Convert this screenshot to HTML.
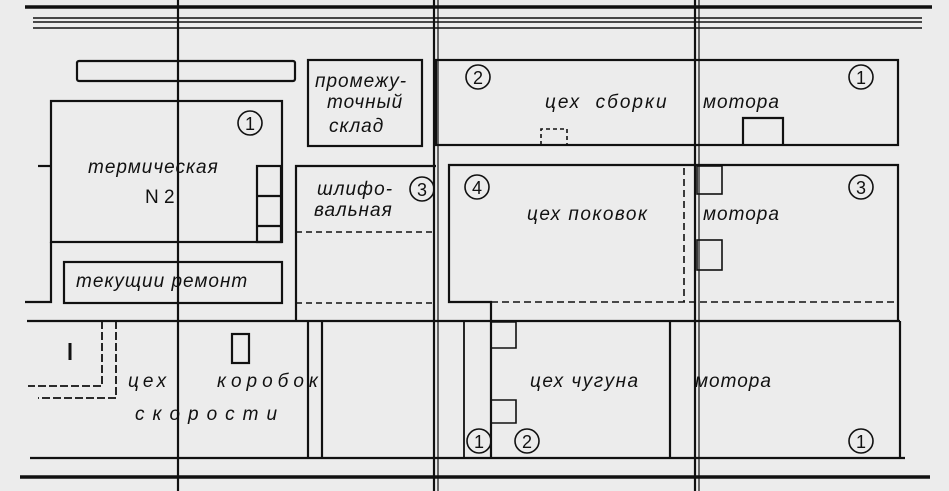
<!DOCTYPE html>
<html><head><meta charset="utf-8"><style>
html,body{margin:0;padding:0;background:#ececec;}
svg{display:block}
text{font-family:"Liberation Sans",sans-serif;font-style:italic;font-size:19px;fill:#111;}
.c{font-style:normal;font-size:18px;text-anchor:middle;}
</style></head><body>
<svg width="949" height="491" viewBox="0 0 949 491" xmlns="http://www.w3.org/2000/svg">
<rect width="949" height="491" fill="#ececec"/>
<g stroke="#111" fill="none" stroke-width="2.2">
<line x1="25" y1="7" x2="932" y2="7" stroke-width="3.5"/>
<line x1="33" y1="18" x2="922" y2="18" stroke-width="1.5"/>
<line x1="33" y1="22" x2="922" y2="22" stroke-width="1.5"/>
<line x1="33" y1="28" x2="922" y2="28" stroke-width="1.5"/>
<line x1="30" y1="458" x2="905" y2="458"/>
<line x1="20" y1="477" x2="930" y2="477" stroke-width="3.5"/>
<line x1="178" y1="0" x2="178" y2="491"/>
<line x1="434" y1="0" x2="434" y2="491"/>
<line x1="438" y1="0" x2="438" y2="491" stroke-width="1.2"/>
<line x1="695" y1="0" x2="695" y2="491"/>
<line x1="699" y1="0" x2="699" y2="491" stroke-width="1.2"/>
<rect x="77" y="61" width="218" height="20" rx="2"/>
<rect x="308" y="60" width="114" height="86"/>
<rect x="51" y="101" width="231" height="141"/>
<rect x="257" y="166" width="24" height="76"/>
<line x1="257" y1="196" x2="281" y2="196"/>
<line x1="257" y1="226" x2="281" y2="226"/>
<polyline points="51,242 51,302 25,302"/>
<line x1="38" y1="166" x2="51" y2="166"/>
<rect x="64" y="262" width="218" height="41"/>
<polyline points="296,321 296,166 436,166"/>
<line x1="296" y1="232" x2="436" y2="232" stroke-dasharray="6,4" stroke-width="1.6"/>
<line x1="296" y1="303" x2="436" y2="303" stroke-dasharray="6,4" stroke-width="1.6"/>
<line x1="27" y1="321" x2="900" y2="321"/>
<line x1="308" y1="321" x2="308" y2="458"/>
<line x1="322" y1="321" x2="322" y2="458"/>
<polyline points="102,321 102,386 28,386" stroke-dasharray="8,3" stroke-width="1.8"/>
<polyline points="116,321 116,398 38,398" stroke-dasharray="8,3" stroke-width="1.8"/>
<line x1="70" y1="343" x2="70" y2="360" stroke-width="3"/>
<rect x="232" y="334" width="17" height="29"/>
<rect x="436" y="60" width="462" height="85"/>
<polyline points="541,145 541,129 567,129 567,145" stroke-dasharray="4,3" stroke-width="1.6"/>
<polyline points="743,145 743,118 783,118 783,145"/>
<polyline points="491,458 491,302 449,302 449,165 898,165 898,321"/>
<line x1="491" y1="302" x2="898" y2="302" stroke-dasharray="7,4" stroke-width="1.6"/>
<line x1="684" y1="168" x2="684" y2="302" stroke-dasharray="7,4" stroke-width="1.6"/>
<rect x="697" y="166" width="25" height="28" stroke-width="1.6"/>
<rect x="697" y="240" width="25" height="30" stroke-width="1.6"/>
<line x1="464" y1="321" x2="464" y2="458" stroke-width="1.8"/>
<line x1="670" y1="321" x2="670" y2="458"/>
<line x1="900" y1="321" x2="900" y2="458"/>
<polyline points="491,322 516,322 516,348 491,348" stroke-width="1.6"/>
<polyline points="491,400 516,400 516,423 491,423" stroke-width="1.6"/>
<g stroke-width="1.6">
<circle cx="250" cy="123" r="12"/>
<circle cx="422" cy="189" r="12"/>
<circle cx="478" cy="77" r="12"/>
<circle cx="861" cy="77" r="12"/>
<circle cx="477" cy="187" r="12"/>
<circle cx="861" cy="187" r="12"/>
<circle cx="479" cy="441" r="12"/>
<circle cx="527" cy="441" r="12"/>
<circle cx="861" cy="441" r="12"/>
</g>
</g>
<g>
<text class="c" x="250" y="130">1</text>
<text class="c" x="422" y="196">3</text>
<text class="c" x="478" y="84">2</text>
<text class="c" x="861" y="84">1</text>
<text class="c" x="477" y="194">4</text>
<text class="c" x="861" y="194">3</text>
<text class="c" x="479" y="448">1</text>
<text class="c" x="527" y="448">2</text>
<text class="c" x="861" y="448">1</text>
<text x="315" y="87" style="letter-spacing:1px">промежу-</text>
<text x="327" y="108" style="letter-spacing:1px">точный</text>
<text x="329" y="132" style="letter-spacing:1px">склад</text>
<text x="88" y="173" style="letter-spacing:1px">термическая</text>
<text x="145" y="203" style="font-style:normal">N 2</text>
<text x="317" y="195" style="letter-spacing:1px">шлифо-</text>
<text x="314" y="216" style="letter-spacing:1px">вальная</text>
<text x="76" y="287" style="letter-spacing:1px">текущии ремонт</text>
<text x="128" y="387" style="letter-spacing:4px">цех</text>
<text x="217" y="387" style="letter-spacing:5px">коробок</text>
<text x="135" y="420" style="letter-spacing:8px">скорости</text>
<text x="545" y="108" style="letter-spacing:2px">цех&#160;&#160;сборки</text>
<text x="703" y="108" style="letter-spacing:1px">мотора</text>
<text x="527" y="220" style="letter-spacing:1.5px">цех поковок</text>
<text x="703" y="220" style="letter-spacing:1px">мотора</text>
<text x="530" y="387" style="letter-spacing:1.5px">цех чугуна</text>
<text x="695" y="387" style="letter-spacing:1px">мотора</text>
</g>
</svg>
</body></html>
